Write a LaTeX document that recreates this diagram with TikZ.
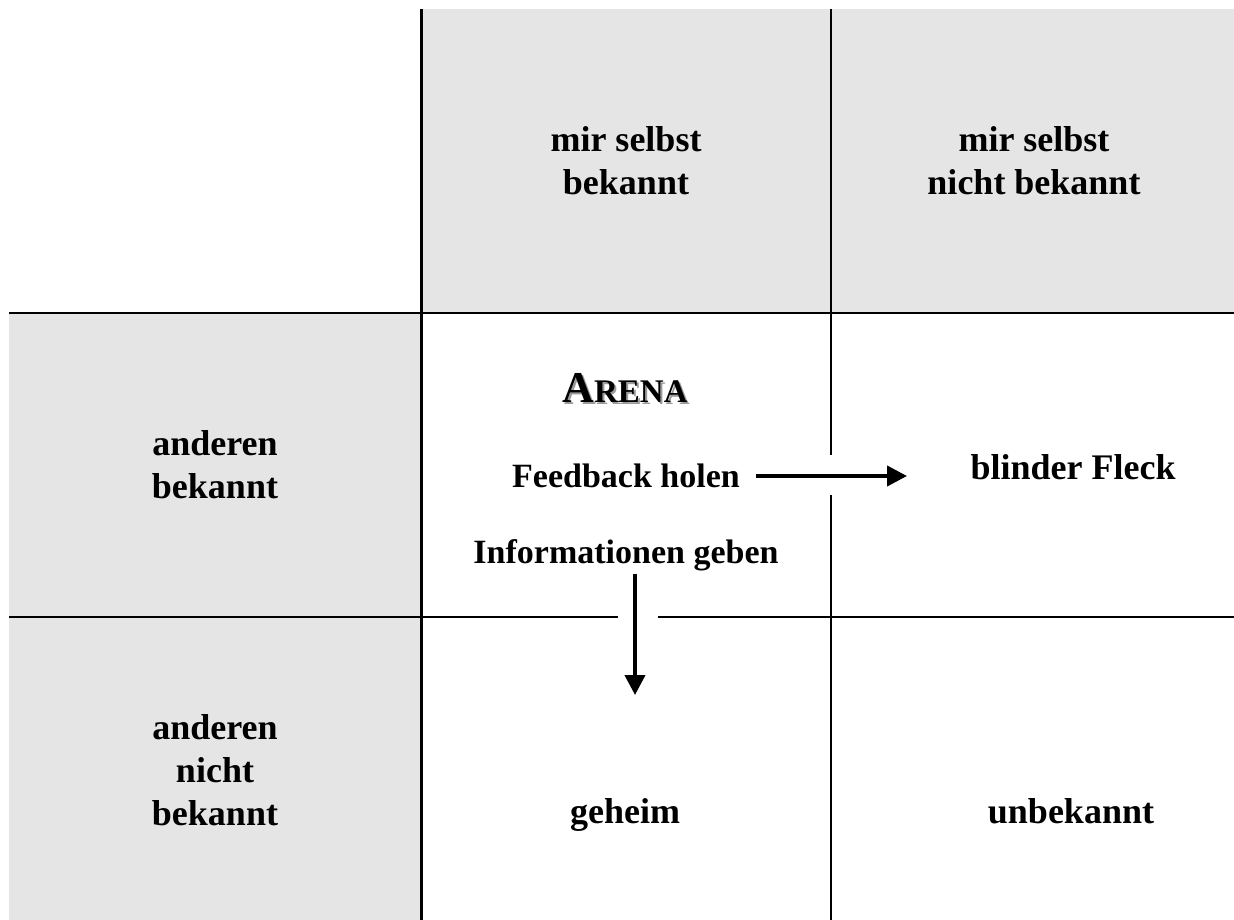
\documentclass[tikz,border=0pt]{standalone}
\usepackage{fontspec}
\setmainfont{Liberation Serif}
\usetikzlibrary{arrows.meta}
\definecolor{cellgray}{HTML}{E5E5E5}
\definecolor{shadowgray}{HTML}{9A9A9A}
\begin{document}
\begin{tikzpicture}[x=1pt,y=-1pt,
  lbl/.style={font=\bfseries\fontsize{36}{43}\selectfont, align=center, inner sep=0pt},
  small/.style={font=\bfseries\fontsize{34}{40}\selectfont, inner sep=0pt},
  arena/.style={font=\bfseries, inner sep=0pt},
  gridline/.style={line width=3pt},
  thinline/.style={line width=2pt},
  arr/.style={line width=4pt, -{Triangle[length=20pt,width=20pt]}}]
\useasboundingbox (0,0) rectangle (1234,920);
% gray cells
\fill[cellgray] (422,9) rectangle (1234,313);
\fill[cellgray] (9,313) rectangle (420,920);
% grid lines
\draw[gridline] (421,9) -- (421,920);
\draw[line width=2.6pt] (831,9) -- (831,455);
\draw[line width=2.6pt] (831,495) -- (831,920);
\draw[line width=2.6pt] (9,313) -- (1234,313);
\draw[thinline] (9,617) -- (618,617);
\draw[thinline] (658,617) -- (1234,617);
% headers
\node[lbl] (h1) at (626,161) {mir selbst\\bekannt};
\node[lbl] (h2) at (1034,161) {mir selbst\\nicht bekannt};
\node[lbl] (r1) at (215,465) {anderen\\bekannt};
\node[lbl] (r2) at (215,770) {anderen\\nicht\\bekannt};
% cells
\node[arena, text=shadowgray, anchor=base] (arenash) at (627,404) {\fontsize{44}{50}\selectfont A\fontsize{33}{40}\selectfont RENA};
\node[arena, anchor=base] (arena) at (625,402) {\fontsize{44}{50}\selectfont A\fontsize{33}{40}\selectfont RENA};
\node[small, anchor=base] (fb) at (626,487) {Feedback holen};
\node[lbl, anchor=base] (bf) at (1073,479) {blinder Fleck};
\node[small, anchor=base] (ig) at (626,563) {Informationen geben};
\node[lbl, anchor=base] (gh) at (625,823) {geheim};
\node[lbl, anchor=base] (ub) at (1071,823) {unbekannt};
% arrows
\coordinate (fbend) at (907,476);
\path ([xshift=16pt]fb.east) coordinate (fbs);
\draw[arr] (fbs |- fbend) -- (fbend);
\coordinate (igend) at (635,695);
\path ([yshift=-3pt]ig.south) coordinate (igs);
\draw[arr] (igs -| igend) -- (igend);
\end{tikzpicture}
\end{document}
